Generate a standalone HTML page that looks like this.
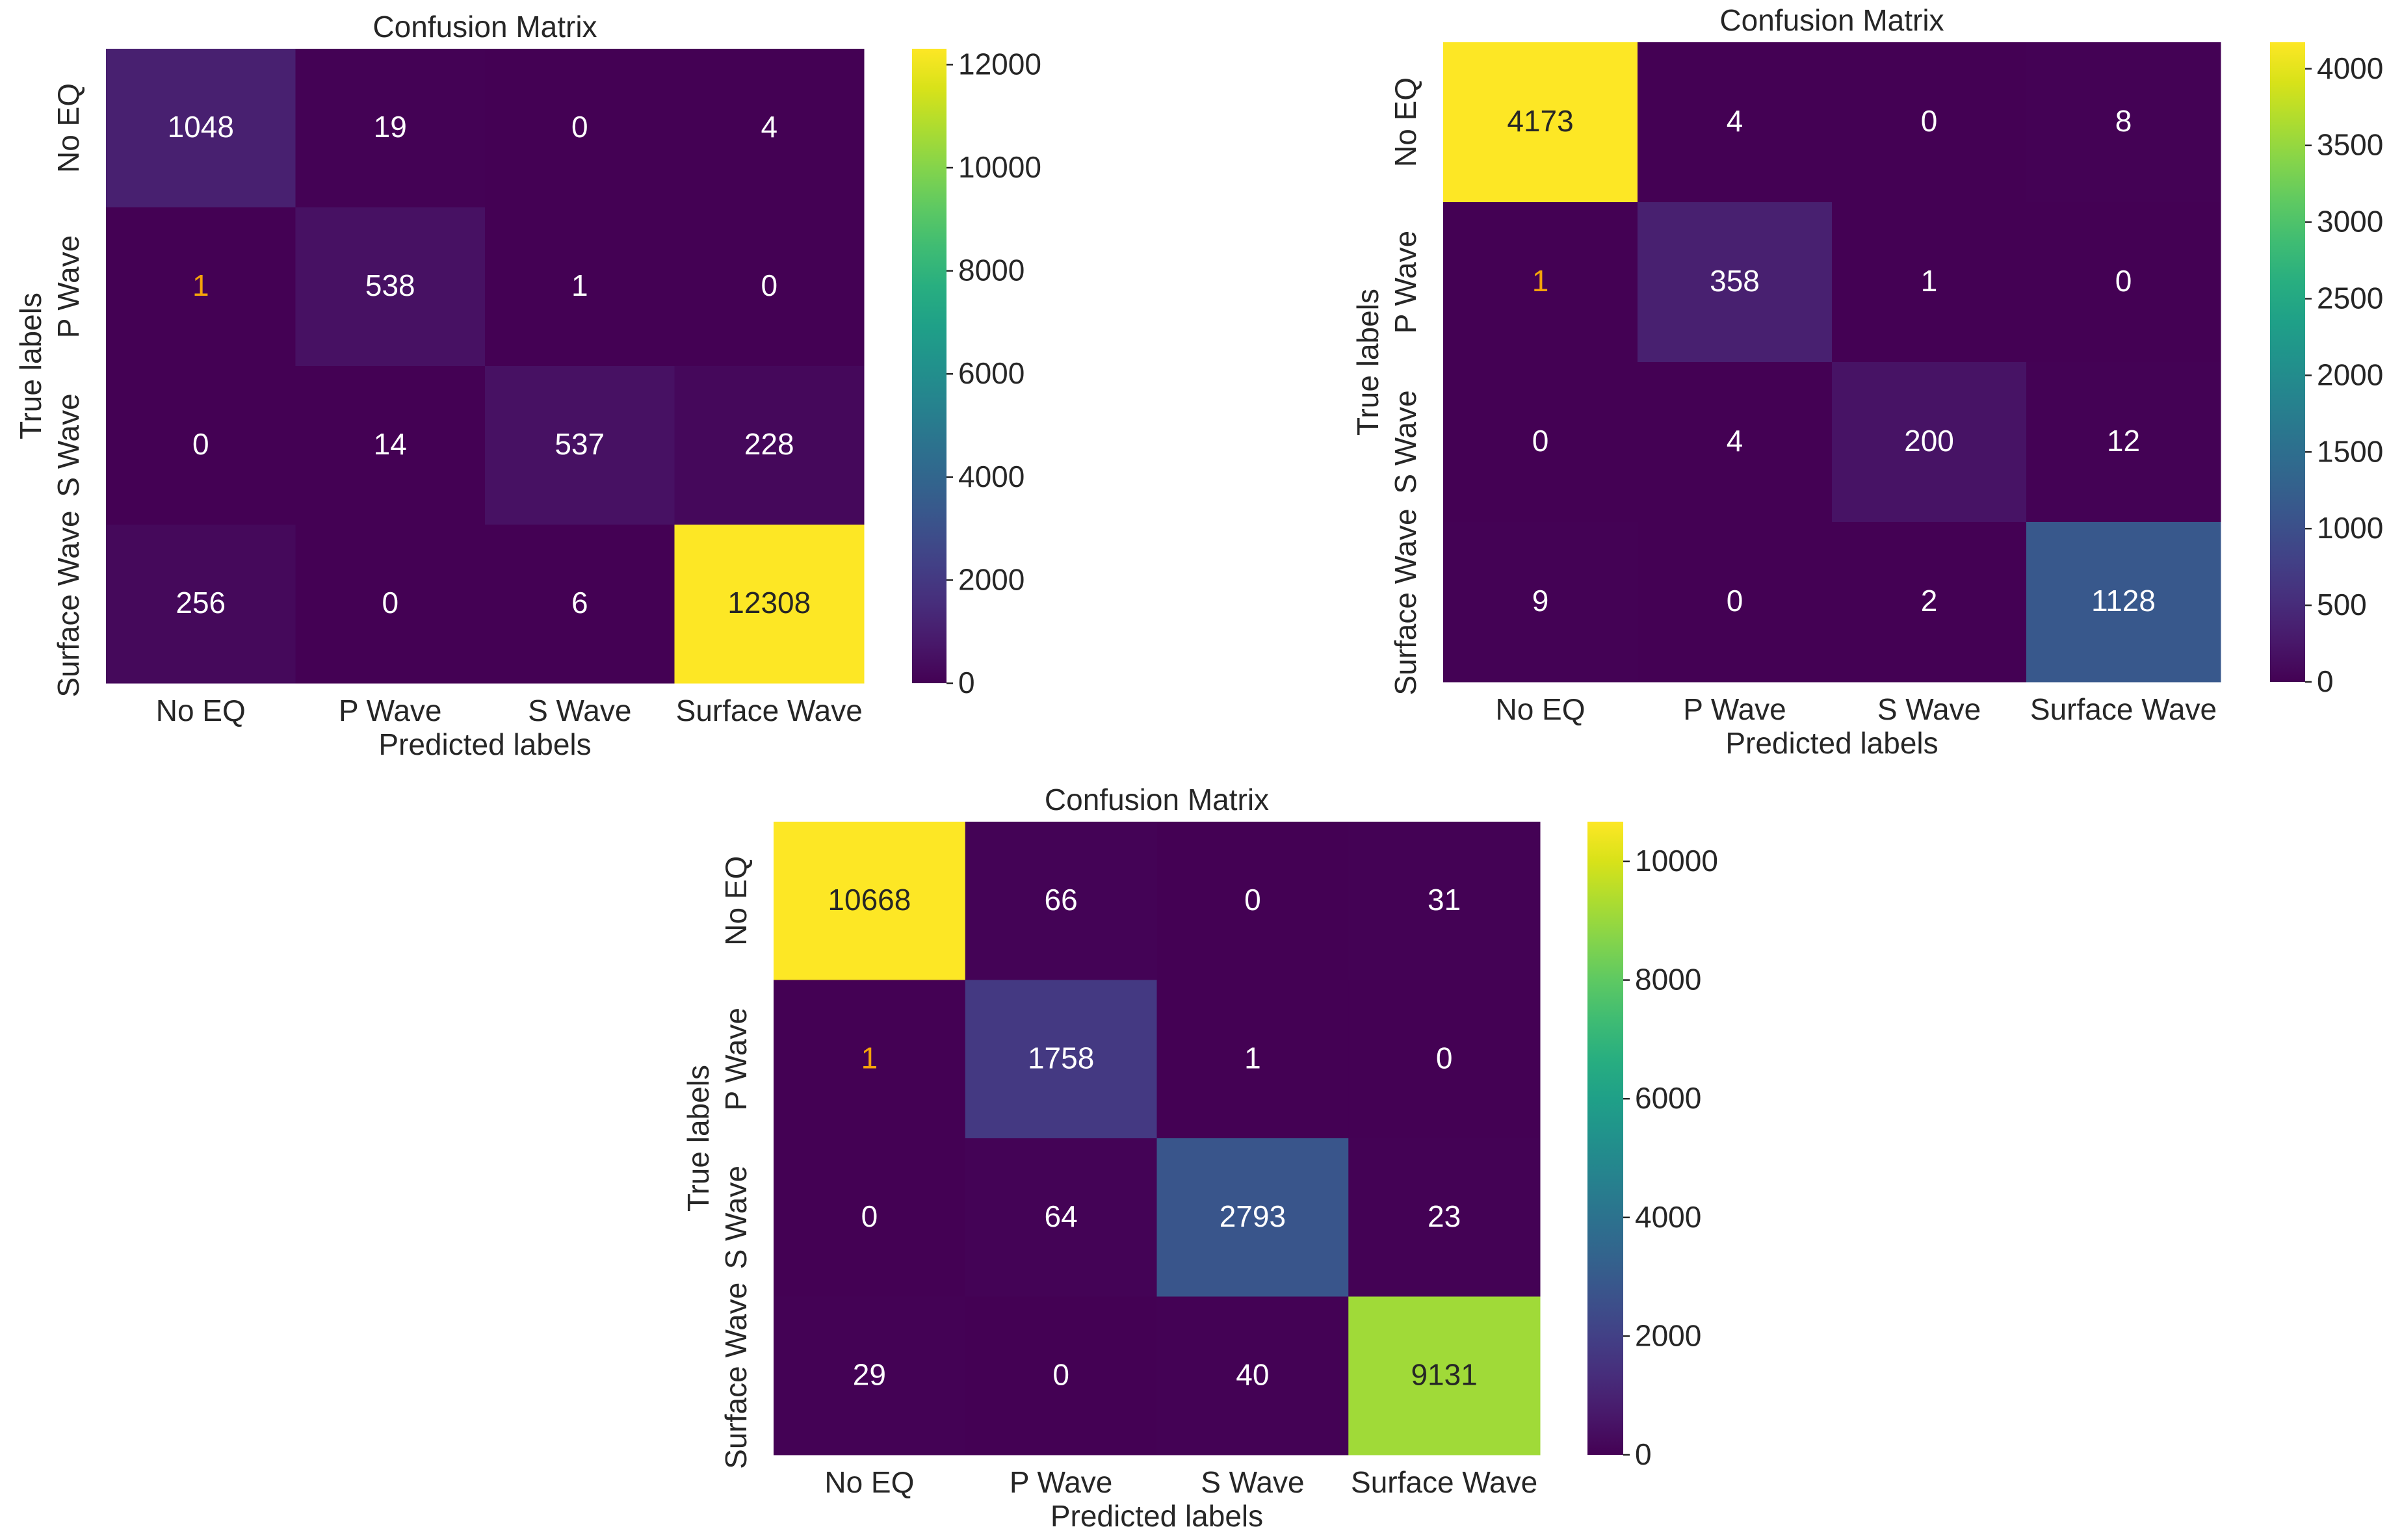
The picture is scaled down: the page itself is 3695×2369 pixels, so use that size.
<!DOCTYPE html>
<html><head><meta charset="utf-8">
<style>
html,body{margin:0;padding:0;background:#fff;}
svg{display:block;font-family:"Liberation Sans",Arial,sans-serif;}
</style></head>
<body>
<svg id="fig" width="3695" height="2369" viewBox="0 0 3695 2369" xmlns="http://www.w3.org/2000/svg">
<defs>
<linearGradient id="viridis" x1="0" y1="1" x2="0" y2="0">
<stop offset="0" stop-color="#440154"/><stop offset="0.0625" stop-color="#48186a"/><stop offset="0.125" stop-color="#472d7b"/><stop offset="0.1875" stop-color="#424086"/><stop offset="0.25" stop-color="#3b528b"/><stop offset="0.3125" stop-color="#33638d"/><stop offset="0.375" stop-color="#2c728e"/><stop offset="0.4375" stop-color="#26828e"/><stop offset="0.5" stop-color="#21918c"/><stop offset="0.5625" stop-color="#1fa088"/><stop offset="0.625" stop-color="#28ae80"/><stop offset="0.6875" stop-color="#3fbc73"/><stop offset="0.75" stop-color="#5ec962"/><stop offset="0.8125" stop-color="#84d44b"/><stop offset="0.875" stop-color="#addc30"/><stop offset="0.9375" stop-color="#d8e219"/><stop offset="1" stop-color="#fde725"/>
</linearGradient>
</defs>
</svg>
<script>
const categories = ["No EQ", "P Wave", "S Wave", "Surface Wave"];
const matrixA = [[1048, 19, 0, 4], [1, 538, 1, 0], [0, 14, 537, 228], [256, 0, 6, 12308]];
const matrixB = [[4173, 4, 0, 8], [1, 358, 1, 0], [0, 4, 200, 12], [9, 0, 2, 1128]];
const matrixC = [[10668, 66, 0, 31], [1, 1758, 1, 0], [0, 64, 2793, 23], [29, 0, 40, 9131]];
const ticksA = [0, 2000, 4000, 6000, 8000, 10000, 12000];
const ticksB = [0, 500, 1000, 1500, 2000, 2500, 3000, 3500, 4000];
const ticksC = [0, 2000, 4000, 6000, 8000, 10000];

const VIR = ["#440154","#48186a","#472d7b","#424086","#3b528b","#33638d","#2c728e","#26828e","#21918c","#1fa088","#28ae80","#3fbc73","#5ec962","#84d44b","#addc30","#d8e219","#fde725"];
function hex(h){return [1,3,5].map(i=>parseInt(h.substr(i,2),16));}
function viridis(t){
  t=Math.max(0,Math.min(1,t));
  const p=t*(VIR.length-1), i=Math.min(Math.floor(p),VIR.length-2), f=p-i;
  const a=hex(VIR[i]), b=hex(VIR[i+1]);
  const c=a.map((v,k)=>Math.round(v+(b[k]-v)*f));
  return {css:`rgb(${c[0]},${c[1]},${c[2]})`, lum:(0.299*c[0]+0.587*c[1]+0.114*c[2])/255};
}
const NS="http://www.w3.org/2000/svg";
const svg=document.getElementById('fig');
function mk(tag,attrs,parent){const e=document.createElementNS(NS,tag);for(const k in attrs)e.setAttribute(k,attrs[k]);(parent||svg).appendChild(e);return e;}
const TXT="#262626", FS=46;

function panel(id, matrix, ticks, box){
  const g=mk('g',{});
  
  
  const n=categories.length;
  let vmax=0; matrix.forEach(r=>r.forEach(v=>{if(v>vmax)vmax=v;}));
  const cw=(box.x1-box.x0)/n, ch=(box.y1-box.y0)/n;
  const xs=i=>box.x0+i*cw, ys=j=>box.y0+j*ch;
  for(let r=0;r<n;r++)for(let c=0;c<n;c++){
    const v=matrix[r][c], col=viridis(v/vmax);
    const rect=mk('rect',{x:xs(c),y:ys(r),width:cw+0.5,height:ch+0.5,fill:col.css},g);
    
    
    let fill = col.lum>0.5 ? TXT : '#ffffff';
    if(r===1&&c===0) fill='#f5a30a';
    const t=mk('text',{x:xs(c)+cw/2,y:ys(r)+ch/2+14,'text-anchor':'middle','font-size':FS,fill:fill},g);
    t.textContent=v;
    
    
  }
  const tt=mk('text',{x:(box.x0+box.x1)/2,y:box.y0-18,'text-anchor':'middle','font-size':FS,fill:TXT},g);
  tt.textContent='Confusion Matrix';
  
  
  categories.forEach((cat,i)=>{
    const t=mk('text',{x:xs(i)+cw/2,y:box.y1+58,'text-anchor':'middle','font-size':FS,fill:TXT},g);
    t.textContent=cat;
    
    
    const cy=ys(i)+ch/2, cx=box.x0-42;
    const u=mk('text',{x:cx,y:cy,'text-anchor':'middle','font-size':FS,fill:TXT,transform:`rotate(-90 ${cx} ${cy})`},g);
    u.textContent=cat;
    
    
  });
  const xl=mk('text',{x:(box.x0+box.x1)/2,y:box.y1+110,'text-anchor':'middle','font-size':FS,fill:TXT},g);
  xl.textContent='Predicted labels';
  
  
  const ly=(box.y0+box.y1)/2, lx=box.x0-100;
  const yl=mk('text',{x:lx,y:ly,'text-anchor':'middle','font-size':FS,fill:TXT,transform:`rotate(-90 ${lx} ${ly})`},g);
  yl.textContent='True labels';
  
  
  const cb=mk('rect',{x:box.cx0,y:box.y0,width:box.cx1-box.cx0,height:box.y1-box.y0,fill:'url(#viridis)'},g);
  
  
  const cy=v=>box.y1-(v/vmax)*(box.y1-box.y0);
  ticks.forEach(v=>{
    const y=cy(v);
    const l=mk('line',{x1:box.cx1,x2:box.cx1+10,y1:y,y2:y,stroke:TXT,'stroke-width':2.5},g);
    
    
    const t=mk('text',{x:box.cx1+18,y:y+15,'font-size':FS,fill:TXT},g);
    t.textContent=v;
    
    
  });
}
panel('matrix-a', matrixA, ticksA, {x0:163,x1:1329,y0:75,y1:1051,cx0:1403,cx1:1456});
panel('matrix-b', matrixB, ticksB, {x0:2220,x1:3416,y0:65,y1:1049,cx0:3492,cx1:3546});
panel('matrix-c', matrixC, ticksC, {x0:1190,x1:2369,y0:1264,y1:2238,cx0:2442,cx1:2497});
</script>
</body></html>
